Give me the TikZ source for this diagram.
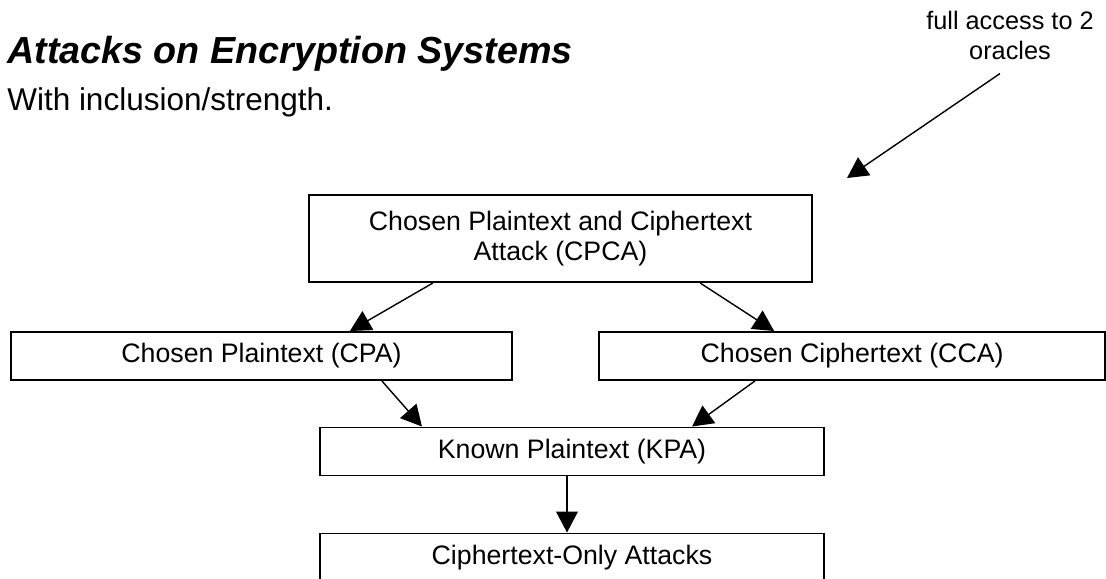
\documentclass[tikz,border=0pt]{standalone}
\usepackage{fontspec}
\setmainfont{Liberation Sans}
\usetikzlibrary{arrows.meta}
\usetikzlibrary{positioning}

\begin{document}
\begin{tikzpicture}[x=0.025cm, y=-0.025cm,
    box/.style={draw, line width=1.4pt, inner sep=0pt, minimum height=1.2cm, align=center, font=\fontsize{19}{21.3}\selectfont},
    link/.style={line width=1pt, -{Triangle[length=0.52cm, width=0.54cm]}}]
    \useasboundingbox (0,0) rectangle (1106,579);
    \clip (0,0) rectangle (1106,579);

    \node (title) [anchor=base west, inner sep=0pt, font=\fontsize{26.8}{30}\selectfont\bfseries\itshape] at (7,63) {Attacks on Encryption Systems};
    \node (sub) [anchor=base west, inner sep=0pt, font=\fontsize{22.4}{26}\selectfont] at (7,110) {With inclusion/strength.};

    \node (note) [align=center, inner sep=0pt, font=\fontsize{18}{21.3}\selectfont] at (1010,35) {full access to 2\\oracles};
    \coordinate (hint) at (847,178);

    \node (cpca) [box, minimum width=12.575cm, minimum height=2.175cm] at (560.5,238.5) {Chosen Plaintext and Ciphertext\\Attack (CPCA)};
    \node (cpa) [box, minimum width=12.525cm] at (261.5,356) {Chosen Plaintext (CPA)};
    \node (cca) [box, minimum width=12.65cm, right=2.125cm of cpa] {Chosen Ciphertext (CCA)};
    \node (kpa) [box, minimum width=12.6cm] at (572,451.5) {Known Plaintext (KPA)};
    \node (coa) [box, minimum width=12.6cm, below=1.4cm of kpa] {Ciphertext-Only Attacks};

    \path [link] ([xshift=-0.25cm,yshift=-0.35cm]note.south) edge (hint);
    \path [link] ([xshift=-3.19cm]cpca.south) edge ([xshift=2.21cm]cpa.north);
    \path [link] ([xshift=3.49cm]cpca.south) edge ([xshift=-1.95cm]cca.north);
    \path [link] ([xshift=3.01cm]cpa.south) edge ([xshift=-3.75cm]kpa.north);
    \path [link] ([xshift=-2.43cm]cca.south) edge ([xshift=3cm]kpa.north);
    \path [link] ([xshift=-0.125cm]kpa.south) edge ([xshift=-0.125cm]coa.north);
\end{tikzpicture}
\end{document}
